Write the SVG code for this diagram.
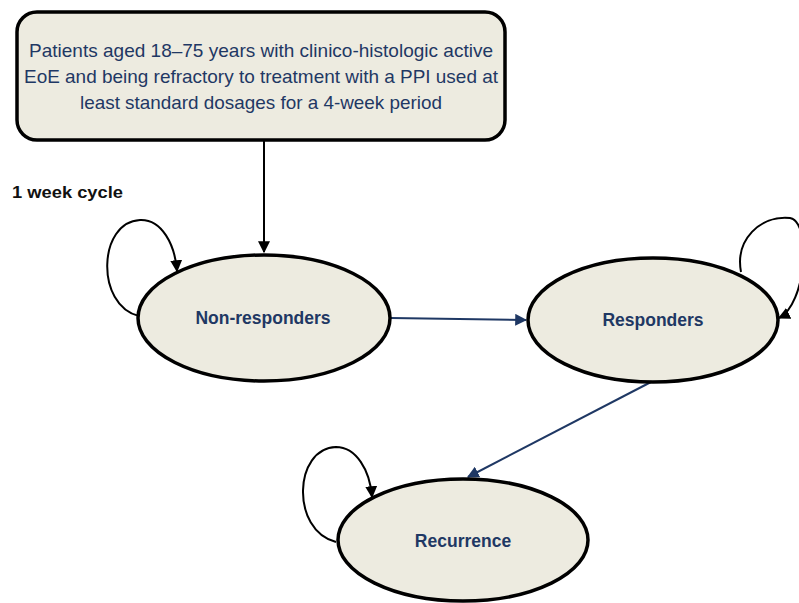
<svg xmlns="http://www.w3.org/2000/svg" width="799" height="603" viewBox="0 0 799 603">
<style>
.node{fill:#EDEBE0;stroke:#000;stroke-width:3.5}
.t{font-family:"Liberation Sans",Arial,sans-serif;fill:#1F3864;text-anchor:middle}
.lbl{font-family:"Liberation Sans",Arial,sans-serif;font-weight:bold;font-size:17.5px;fill:#1F3864;text-anchor:middle}
.blk{fill:none;stroke:#000;stroke-width:2}
.nav{fill:none;stroke:#1F3864;stroke-width:2}
</style>
<defs>
<marker id="ab" viewBox="0 0 10 10" refX="9" refY="5" markerWidth="6" markerHeight="6" orient="auto" markerUnits="strokeWidth"><path d="M0,0 L10,5 L0,10 z" fill="#000"/></marker>
<marker id="an" viewBox="0 0 10 10" refX="9" refY="5" markerWidth="6" markerHeight="6" orient="auto" markerUnits="strokeWidth"><path d="M0,0 L10,5 L0,10 z" fill="#1F3864"/></marker>
</defs>
<rect width="799" height="603" fill="#fff"/>
<g id="connectors">
<path class="blk" d="M264 141 L264 252" marker-end="url(#ab)"/>
<path class="nav" d="M391 318 L526 320" marker-end="url(#an)"/>
<path class="nav" d="M651 382 L468 477" marker-end="url(#an)"/>
<path class="blk" d="M139 316 C95 305 98 222 140 220 C162 219 175 245 177 271" marker-end="url(#ab)"/>
<path class="blk" d="M741 272 C735 240 760 215 790 218 C812 222 806 305 779 318" marker-end="url(#ab)"/>
<path class="blk" d="M336 542 C290 530 294 448 336 447 C356 447 370 470 372 497" marker-end="url(#ab)"/>
</g>
<g id="start">
<rect class="node" x="17" y="12" width="488" height="128" rx="20" ry="20"/>
<text class="t" font-size="18.5"><tspan x="261" y="57" textLength="464" lengthAdjust="spacingAndGlyphs">Patients aged 18–75 years with clinico-histologic active</tspan><tspan x="261" y="83" textLength="474" lengthAdjust="spacingAndGlyphs">EoE and being refractory to treatment with a PPI used at</tspan><tspan x="261" y="109" textLength="362" lengthAdjust="spacingAndGlyphs">least standard dosages for a 4-week period</tspan></text>
</g>
<g id="cycle-label">
<text x="12" y="198" font-family="Liberation Sans,Arial,sans-serif" font-weight="bold" font-size="17" fill="#111" textLength="111" lengthAdjust="spacingAndGlyphs">1 week cycle</text>
</g>
<g id="non-responders">
<ellipse class="node" cx="264" cy="318" rx="126" ry="63"/>
<text class="lbl" x="263" y="324">Non-responders</text>
</g>
<g id="responders">
<ellipse class="node" cx="653" cy="320" rx="125" ry="62"/>
<text class="lbl" x="653" y="326">Responders</text>
</g>
<g id="recurrence">
<ellipse class="node" cx="463" cy="540" rx="125" ry="61"/>
<text class="lbl" x="463" y="547">Recurrence</text>
</g>
</svg>
